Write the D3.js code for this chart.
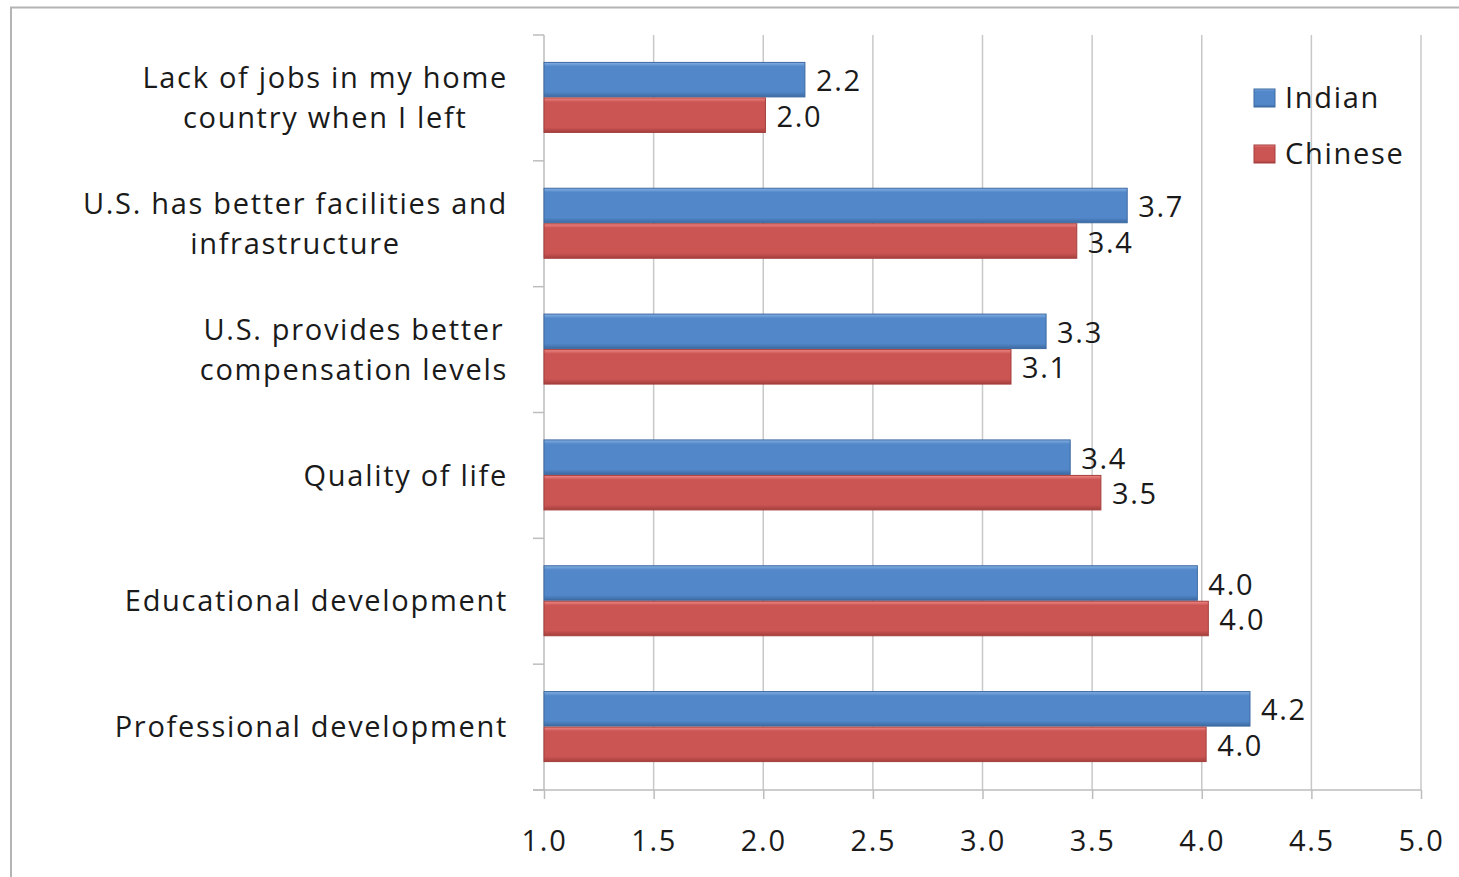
<!DOCTYPE html>
<html>
<head>
<meta charset="utf-8">
<script src="https://cdn.jsdelivr.net/npm/d3@7"></script>
<style>
  html, body { margin: 0; padding: 0; background: #fff; }
  svg text { font-family: "Open Sans", "DejaVu Sans", sans-serif; fill: #1a1a1a; letter-spacing: 1.7px; }
</style>
</head>
<body>
<svg id="chart" width="1459" height="877"></svg>
<script>
// ---- data ----
const categories = [
  ["Lack of jobs in my home", "country when I left"],
  ["U.S. has better facilities and", "infrastructure"],
  ["U.S. provides better", "compensation levels"],
  ["Quality of life"],
  ["Educational development"],
  ["Professional development"]
];
const seriesNames = ["Indian", "Chinese"];
const indianValues  = [2.19, 3.66, 3.29, 3.40, 3.98, 4.22];
const chineseValues = [2.01, 3.43, 3.13, 3.54, 4.03, 4.02];
const xTicks = [1.0, 1.5, 2.0, 2.5, 3.0, 3.5, 4.0, 4.5, 5.0];

(function () {
// ---- layout ----
const svg = d3.select("#chart");
const W = 1459, H = 877;
const mLeft = 544, mRight = 1421, mTop = 35, mBottom = 790;
const fontSize = 29;

const catKeys = categories.map((c, i) => i);
const seriesValues = [indianValues, chineseValues];
const colors = { Indian: "#5288c9", Chinese: "#cb5553" };
const lightColors = { Indian: "#86b0e4", Chinese: "#f08987" };
const darkColors = { Indian: "#3d6aa2", Chinese: "#a43f3d" };

// outer border
svg.append("rect").attr("x", 11).attr("y", 7.5).attr("width", W + 10).attr("height", H + 10)
  .attr("fill", "none").attr("stroke", "#b4b4b4").attr("stroke-width", 2);

const x = d3.scaleLinear().domain([1, 5]).range([mLeft, mRight]);
const y0 = d3.scaleBand().domain(catKeys).range([mTop, mBottom]).padding(0);
const y1 = d3.scaleBand().domain(seriesNames).range([0, y0.bandwidth()]).paddingInner(0).paddingOuter(0.772);

// gradients
const defs = svg.append("defs");
seriesNames.forEach(s => {
  const g = defs.append("linearGradient").attr("id", "grad-" + s)
    .attr("x1", 0).attr("y1", 0).attr("x2", 0).attr("y2", 1);
  g.append("stop").attr("offset", "0%").attr("stop-color", lightColors[s]);
  g.append("stop").attr("offset", "12%").attr("stop-color", colors[s]);
  g.append("stop").attr("offset", "85%").attr("stop-color", colors[s]);
  g.append("stop").attr("offset", "100%").attr("stop-color", darkColors[s]);
});

// gridlines
svg.append("g").selectAll("line").data(xTicks.slice(1)).join("line")
  .attr("x1", d => x(d)).attr("x2", d => x(d))
  .attr("y1", mTop).attr("y2", mBottom)
  .attr("stroke", "#c8c8c8").attr("stroke-width", 1.5);

// x axis
const xAxis = svg.append("g").attr("transform", `translate(0,${mBottom})`)
  .call(d3.axisBottom(x).tickValues(xTicks).tickFormat(d3.format(".1f")).tickSize(9).tickPadding(31));
xAxis.select(".domain").attr("stroke", "#bdbdbd").attr("stroke-width", 1.5)
  .attr("d", `M${mLeft - 11},0H${mRight}`);
xAxis.selectAll(".tick line").attr("stroke", "#bdbdbd").attr("stroke-width", 1.5);
xAxis.selectAll(".tick text").attr("font-size", fontSize).attr("fill", "#1a1a1a")
  .attr("font-family", '"Open Sans", sans-serif');

// y axis line and ticks at band boundaries
const yBounds = catKeys.map(k => y0(k)).concat([mBottom]);
svg.append("line").attr("x1", mLeft).attr("x2", mLeft).attr("y1", mTop).attr("y2", mBottom)
  .attr("stroke", "#bdbdbd").attr("stroke-width", 1.5);
svg.append("g").selectAll("line").data(yBounds).join("line")
  .attr("x1", mLeft - 11).attr("x2", mLeft).attr("y1", d => d).attr("y2", d => d)
  .attr("stroke", "#bdbdbd").attr("stroke-width", 1.5);

// category labels
const catG = svg.append("g");
categories.forEach((lines, i) => {
  const cy = y0(i) + y0.bandwidth() / 2;
  const lh = 40;
  const t = catG.append("text").attr("font-size", fontSize).attr("text-anchor", "middle");
  lines.forEach((ln, j) => {
    t.append("tspan").attr("x", 0)
      .attr("y", cy + (j - (lines.length - 1) / 2) * lh).attr("dy", "0.35em").text(ln);
  });
  const bbox = t.node().getBBox();
  const cx = 508 - bbox.width / 2;
  t.selectAll("tspan").attr("x", cx);
});

// bars
seriesNames.forEach((s, si) => {
  const vals = seriesValues[si];
  const g = svg.append("g");
  g.selectAll("rect").data(vals).join("rect")
    .attr("x", x(1))
    .attr("y", (d, i) => y0(i) + y1(s))
    .attr("width", d => x(d) - x(1))
    .attr("height", y1.bandwidth() - 1)
    .attr("fill", `url(#grad-${s})`)
    .attr("stroke", darkColors[s]).attr("stroke-width", 1);
  g.selectAll("text").data(vals).join("text")
    .attr("x", d => x(d) + 11)
    .attr("y", (d, i) => y0(i) + y1(s) + y1.bandwidth() / 2)
    .attr("dy", "0.38em")
    .attr("font-size", fontSize)
    .text(d => d.toFixed(1));
});

// legend
const legend = svg.append("g");
seriesNames.forEach((s, i) => {
  const ly = 98 + i * 56;
  legend.append("rect").attr("x", 1254).attr("y", ly - 9).attr("width", 21).attr("height", 18)
    .attr("fill", `url(#grad-${s})`).attr("stroke", darkColors[s]).attr("stroke-width", 1);
  legend.append("text").attr("x", 1285).attr("y", ly).attr("dy", "0.35em")
    .attr("font-size", fontSize).text(s);
});
})();
</script>
</body>
</html>
